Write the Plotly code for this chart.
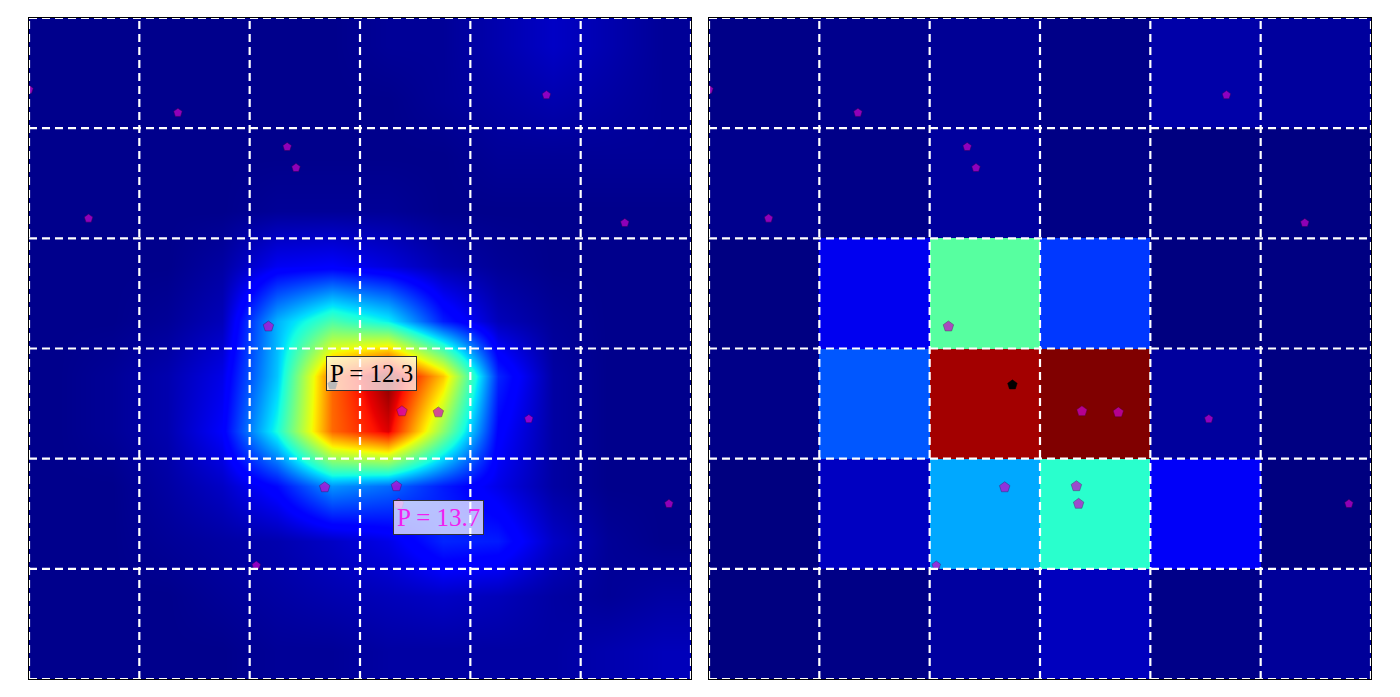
import plotly.graph_objects as go

# smooth field (left panel), sampled at half-cell centres, rows bottom -> top
fine_x = [0.25, 0.75, 1.25, 1.75, 2.25, 2.75, 3.25, 3.75, 4.25, 4.75, 5.25, 5.75]
fine_y = [0.25, 0.75, 1.25, 1.75, 2.25, 2.75, 3.25, 3.75, 4.25, 4.75, 5.25, 5.75]
fine_z = [
    [0.01, 0.01, 0.01, 0.01, 0.02, 0.02, 0.03, 0.03, 0.03, 0.03, 0.04, 0.05],
    [0.01, 0.01, 0.01, 0.02, 0.03, 0.04, 0.05, 0.06, 0.05, 0.03, 0.02, 0.03],
    [0.01, 0.01, 0.02, 0.03, 0.04, 0.06, 0.09, 0.16, 0.15, 0.06, 0.02, 0.01],
    [0.01, 0.01, 0.03, 0.06, 0.13, 0.27, 0.23, 0.15, 0.09, 0.03, 0.01, 0.01],
    [0.01, 0.02, 0.04, 0.11, 0.38, 0.80, 0.92, 0.52, 0.12, 0.03, 0.01, 0.01],
    [0.01, 0.02, 0.04, 0.09, 0.32, 0.80, 1.00, 0.70, 0.16, 0.03, 0.01, 0.01],
    [0.01, 0.01, 0.02, 0.05, 0.30, 0.44, 0.36, 0.15, 0.05, 0.02, 0.01, 0.01],
    [0.01, 0.01, 0.01, 0.03, 0.10, 0.11, 0.08, 0.04, 0.02, 0.01, 0.01, 0.01],
    [0.01, 0.01, 0.01, 0.01, 0.02, 0.02, 0.02, 0.01, 0.01, 0.01, 0.01, 0.01],
    [0.01, 0.01, 0.01, 0.01, 0.01, 0.01, 0.01, 0.01, 0.02, 0.02, 0.02, 0.02],
    [0.01, 0.01, 0.01, 0.01, 0.01, 0.01, 0.01, 0.02, 0.03, 0.04, 0.03, 0.02],
    [0.01, 0.01, 0.01, 0.01, 0.01, 0.01, 0.02, 0.02, 0.04, 0.06, 0.04, 0.02],
]

# binned field (right panel), 6x6 cells, rows bottom -> top
cell_x = [0.5, 1.5, 2.5, 3.5, 4.5, 5.5]
cell_y = [0.5, 1.5, 2.5, 3.5, 4.5, 5.5]
cell_z = [
    [0.0, 0.005, 0.028, 0.054, 0.007, 0.022],
    [0.0, 0.056, 0.29, 0.40, 0.105, 0.0],
    [0.007, 0.21, 0.97, 1.0, 0.025, 0.002],
    [0.002, 0.097, 0.455, 0.18, 0.0, 0.002],
    [0.011, 0.007, 0.025, 0.004, 0.0, 0.002],
    [0.007, 0.011, 0.018, 0.007, 0.035, 0.025],
]

# sample points
pts_x = [0.0, 1.35, 2.34, 2.42, 0.54, 4.69, 5.40, 2.17, 3.38, 3.71, 4.53, 2.68, 3.33, 3.35, 5.80, 2.06]
pts_y = [5.35, 5.14, 4.83, 4.64, 4.18, 5.30, 4.14, 3.20, 2.43, 2.42, 2.36, 1.74, 1.75, 1.59, 1.59, 1.03]
pts_size = [9, 9, 9, 9, 9, 9, 9, 11, 11, 11, 9, 11, 11, 11, 9, 9]
best_x = [2.75]
best_y = [2.67]

labels = ["P = 12.3", "P = 13.7"]
label_x = [2.75, 3.35]
label_y = [2.67, 1.59]

grid_ticks = [0, 1, 2, 3, 4, 5, 6]

# matplotlib "jet"
jet = [
    [0.0, "rgb(0,0,128)"], [0.11, "rgb(0,0,255)"], [0.125, "rgb(0,0,255)"],
    [0.34, "rgb(0,219,255)"], [0.35, "rgb(0,230,247)"], [0.375, "rgb(21,255,226)"],
    [0.64, "rgb(238,255,8)"], [0.65, "rgb(247,246,0)"], [0.66, "rgb(255,236,0)"],
    [0.89, "rgb(255,19,0)"], [0.91, "rgb(232,0,0)"], [1.0, "rgb(128,0,0)"],
]

fig = go.Figure()

fig.add_trace(go.Heatmap(x=fine_x, y=fine_y, z=fine_z, zsmooth="best", colorscale=jet,
                         zmin=0, zmax=1, showscale=False, xaxis="x", yaxis="y"))
fig.add_trace(go.Heatmap(x=cell_x, y=cell_y, z=cell_z, colorscale=jet,
                         zmin=0, zmax=1, showscale=False, xaxis="x2", yaxis="y2"))

for xa, ya in [("x", "y"), ("x2", "y2")]:
    fig.add_trace(go.Scatter(
        x=pts_x, y=pts_y, mode="markers", xaxis=xa, yaxis=ya, showlegend=False,
        marker=dict(symbol="pentagon", size=pts_size, color="#cc00cc",
                    line=dict(color="#400040", width=0.5)),
    ))
    fig.add_trace(go.Scatter(
        x=best_x, y=best_y, mode="markers", xaxis=xa, yaxis=ya, showlegend=False,
        marker=dict(symbol="pentagon", size=10, color="black",
                    line=dict(color="black", width=0.5)),
    ))

# dashed white grid on top of the images
shapes = []
for xr, yr in [("x", "y"), ("x2", "y2")]:
    for t in grid_ticks:
        line = dict(color="white", width=2.2, dash="8px,5px")
        shapes.append(dict(type="line", xref=xr, yref=yr, x0=t, x1=t, y0=0, y1=6,
                           line=line, layer="above"))
        shapes.append(dict(type="line", xref=xr, yref=yr, x0=0, x1=6, y0=t, y1=t,
                           line=line, layer="above"))

annotations = [
    dict(x=label_x[0], y=label_y[0], xref="x", yref="y", text=labels[0],
         showarrow=False, xanchor="left", yanchor="bottom", xshift=-6, yshift=-6,
         font=dict(family="Liberation Serif", size=25, color="black"),
         bgcolor="rgba(255,255,255,0.72)", bordercolor="#333333", borderwidth=1, borderpad=3),
    dict(x=label_x[1], y=label_y[1], xref="x", yref="y", text=labels[1],
         showarrow=False, xanchor="left", yanchor="top", xshift=-6, yshift=4,
         font=dict(family="Liberation Serif", size=25, color="#f020f0"),
         bgcolor="rgba(255,255,255,0.72)", bordercolor="#333333", borderwidth=1, borderpad=3),
]

axis_style = dict(range=[0, 6], showgrid=False, zeroline=False, showticklabels=False,
                  ticks="", showline=True, mirror=True, linecolor="black", linewidth=1)

# page body adds an 8px offset, so domains are computed from (pixel - 8)
fig.update_layout(
    width=1400, height=697,
    margin=dict(l=0, r=0, t=0, b=0),
    paper_bgcolor="white", plot_bgcolor="white",
    showlegend=False,
    xaxis=dict(domain=[21 / 1400, 683 / 1400], anchor="y", **axis_style),
    yaxis=dict(domain=[1 - 671 / 697, 1 - 10 / 697], anchor="x", **axis_style),
    xaxis2=dict(domain=[701 / 1400, 1363 / 1400], anchor="y2", **axis_style),
    yaxis2=dict(domain=[1 - 671 / 697, 1 - 10 / 697], anchor="x2", **axis_style),
    shapes=shapes,
    annotations=annotations,
)

fig.write_html("out.html")
